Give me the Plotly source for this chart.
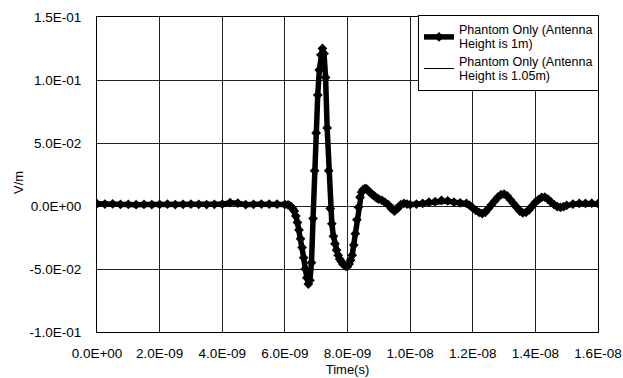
import plotly.graph_objects as go

# time in ns
t_ns = [
    0.0, 0.25, 0.5, 0.75, 1.0, 1.25, 1.5, 1.75, 2.0, 2.25, 2.5, 2.75, 3.0, 3.25, 3.5, 3.75,
    4.0, 4.25, 4.5, 4.75, 5.0, 5.25, 5.5, 5.75, 6.0,
    6.10, 6.15, 6.20, 6.25, 6.30, 6.35, 6.40, 6.45, 6.50, 6.55, 6.60, 6.65, 6.70, 6.75,
    6.80, 6.85, 6.90, 6.95, 7.00, 7.05, 7.10, 7.15, 7.20, 7.25, 7.30, 7.35, 7.40, 7.45,
    7.50, 7.55, 7.60, 7.65, 7.70, 7.75, 7.80, 7.85, 7.90, 7.95, 8.00, 8.05, 8.10, 8.15,
    8.20, 8.25, 8.30, 8.35, 8.40, 8.45, 8.50, 8.55, 8.60, 8.65, 8.70, 8.75, 8.80, 8.85,
    8.90, 8.95, 9.00,
    9.1, 9.2, 9.3, 9.4, 9.5, 9.6, 9.7, 9.8, 9.9, 10.0,
    10.2, 10.4, 10.6, 10.8, 11.0, 11.2, 11.4, 11.6, 11.8,
    11.9, 12.0, 12.1, 12.2, 12.3, 12.4, 12.5, 12.6, 12.7, 12.8, 12.9, 13.0, 13.1, 13.2,
    13.3, 13.4, 13.5, 13.6, 13.7, 13.8, 13.9, 14.0, 14.1, 14.2, 14.3, 14.4, 14.5, 14.6,
    14.7, 14.8, 14.9,
    15.0, 15.2, 15.4, 15.6, 15.8, 16.0,
]

# Phantom Only (Antenna Height is 1m)
v_1m = [
    0.0018, 0.0015, 0.0016, 0.0012, 0.0013, 0.0010, 0.0012, 0.0011, 0.0012, 0.0014, 0.0011,
    0.0013, 0.0015, 0.0013, 0.0011, 0.0013, 0.0014, 0.0026, 0.0022, 0.0010, 0.0013, 0.0015,
    0.0014, 0.0014, 0.0012,
    0.0008, 0.0003, -0.0005, -0.002, -0.004, -0.008, -0.013, -0.019, -0.026, -0.033, -0.041,
    -0.050, -0.057, -0.062, -0.059, -0.045, -0.010, 0.028, 0.058, 0.088, 0.108, 0.120, 0.125,
    0.121, 0.102, 0.062, 0.028, -0.002, -0.014, -0.024, -0.030, -0.035, -0.039, -0.042,
    -0.044, -0.046, -0.047, -0.048, -0.048, -0.046, -0.043, -0.039, -0.031, -0.022, -0.011,
    -0.001, 0.007, 0.011, 0.013, 0.0137, 0.0137, 0.0125, 0.0113, 0.010, 0.009, 0.008, 0.007,
    0.006, 0.0055,
    0.0045, 0.0028, 0.001, -0.002, -0.004, -0.002, 0.001, 0.002, 0.0015, 0.001,
    0.0015, 0.002, 0.003, 0.0035, 0.0045, 0.004, 0.003, 0.0025, 0.002,
    0.0005, -0.0015, -0.0035, -0.005, -0.006, -0.005, -0.002, 0.001, 0.004, 0.007, 0.009,
    0.0095, 0.008, 0.005, 0.002, -0.001, -0.004, -0.0055, -0.005, -0.003, 0.0, 0.003, 0.005,
    0.0068, 0.007, 0.0055, 0.003, 0.001, -0.0005, -0.001, -0.0005,
    0.0005, 0.0015, 0.002, 0.002, 0.0022, 0.0018,
]

# Phantom Only (Antenna Height is 1.05m)
v_105m = [
    0.0010, 0.0008, 0.0009, 0.0006, 0.0007, 0.0005, 0.0006, 0.0005, 0.0006, 0.0007, 0.0005,
    0.0006, 0.0008, 0.0006, 0.0005, 0.0006, 0.0007, 0.0018, 0.0014, 0.0004, 0.0006, 0.0008,
    0.0007, 0.0007, 0.0006,
    0.0004, 0.0, -0.0008, -0.0023, -0.0043, -0.0083, -0.0133, -0.0193, -0.0263, -0.0333,
    -0.0413, -0.0503, -0.0573, -0.0617, -0.0592, -0.0452, -0.0102, 0.0278, 0.0578, 0.0878,
    0.1078, 0.1198, 0.1248, 0.1208, 0.1018, 0.0618, 0.0278, -0.0022, -0.0142, -0.0242,
    -0.0302, -0.0352, -0.0392, -0.0422, -0.0442, -0.0462, -0.0472, -0.0482, -0.0482,
    -0.0462, -0.0432, -0.0392, -0.0312, -0.0222, -0.0112, -0.0012, 0.0065, 0.0105, 0.0125,
    0.0132, 0.0130, 0.0118, 0.0104, 0.0092, 0.0082, 0.0072, 0.0063, 0.0055, 0.0048,
    0.0038, 0.0028, 0.0018, 0.0010, 0.0006, 0.0005, 0.0008, 0.0012, 0.0012, 0.0010,
    0.0012, 0.0015, 0.0020, 0.0025, 0.0030, 0.0028, 0.0022, 0.0018, 0.0014,
    0.0005, -0.0005, -0.0018, -0.0028, -0.0032, -0.0028, -0.0012, 0.0008, 0.0030, 0.0052,
    0.0066, 0.0070, 0.0060, 0.0038, 0.0015, -0.0005, -0.0022, -0.0032, -0.0030, -0.0018,
    0.0, 0.0020, 0.0036, 0.0048, 0.0050, 0.0040, 0.0022, 0.0008, -0.0002, -0.0006, -0.0002,
    0.0004, 0.0010, 0.0014, 0.0015, 0.0016, 0.0014,
]

x_tick_vals = [0, 2e-9, 4e-9, 6e-9, 8e-9, 1e-8, 1.2e-8, 1.4e-8, 1.6e-8]
x_tick_text = ["0.0E+00", "2.0E-09", "4.0E-09", "6.0E-09", "8.0E-09",
               "1.0E-08", "1.2E-08", "1.4E-08", "1.6E-08"]
y_tick_vals = [-0.1, -0.05, 0.0, 0.05, 0.1, 0.15]
y_tick_text = ["-1.0E-01", "-5.0E-02", "0.0E+00", "5.0E-02", "1.0E-01", "1.5E-01"]

names = [
    ["Phantom Only (Antenna", "Height is 1m)"],
    ["Phantom Only (Antenna", "Height is 1.05m)"],
]

assert len(t_ns) == len(v_1m) == len(v_105m)
t_s = [v * 1e-9 for v in t_ns]

FONT = "Liberation Sans, Arial, sans-serif"


def legend_name(lines):
    return "<br>".join("<span style='font-size:12.5px'>%s</span>" % ln for ln in lines)


fig = go.Figure()
fig.add_trace(go.Scatter(
    x=t_s, y=v_1m, mode="lines+markers",
    name=legend_name(names[0]),
    line=dict(color="black", width=5.5),
    marker=dict(symbol="diamond", size=7.5, color="black"),
))
fig.add_trace(go.Scatter(
    x=t_s, y=v_105m, mode="lines",
    name=legend_name(names[1]),
    line=dict(color="black", width=1),
))

fig.update_layout(
    width=623, height=378,
    margin=dict(l=97, r=25, t=17, b=46),
    paper_bgcolor="white", plot_bgcolor="white",
    font=dict(family=FONT, size=13, color="black"),
    showlegend=True,
    legend=dict(
        x=1.002, y=1.006, xanchor="right", yanchor="top",
        bgcolor="white", bordercolor="black", borderwidth=1,
        font=dict(family=FONT, size=11, color="black"),
        tracegroupgap=0,
    ),
    xaxis=dict(
        range=[0, 1.6e-8], tickvals=x_tick_vals, ticktext=x_tick_text,
        tickfont=dict(family=FONT, size=13.5),
        showgrid=True, gridcolor="#222", gridwidth=1,
        showline=True, linecolor="black", linewidth=1, mirror=True,
        zeroline=False, ticks="", ticklabelstandoff=9, automargin=False,
        title=dict(text="Time(s)", font=dict(family=FONT, size=13), standoff=4),
    ),
    yaxis=dict(
        range=[-0.1, 0.15], tickvals=y_tick_vals, ticktext=y_tick_text,
        tickfont=dict(family=FONT, size=13.5),
        showgrid=True, gridcolor="#222", gridwidth=1,
        showline=True, linecolor="black", linewidth=1, mirror=True,
        zeroline=False, ticks="", ticklabelstandoff=12, automargin=False,
    ),
    annotations=[dict(
        text="V/m", xref="paper", yref="paper",
        x=(9 - 97) / 501, y=(333 - 183) / 316,
        showarrow=False, textangle=-90,
        font=dict(family=FONT, size=13, color="black"),
    )],
)

fig.write_html("out.html")
